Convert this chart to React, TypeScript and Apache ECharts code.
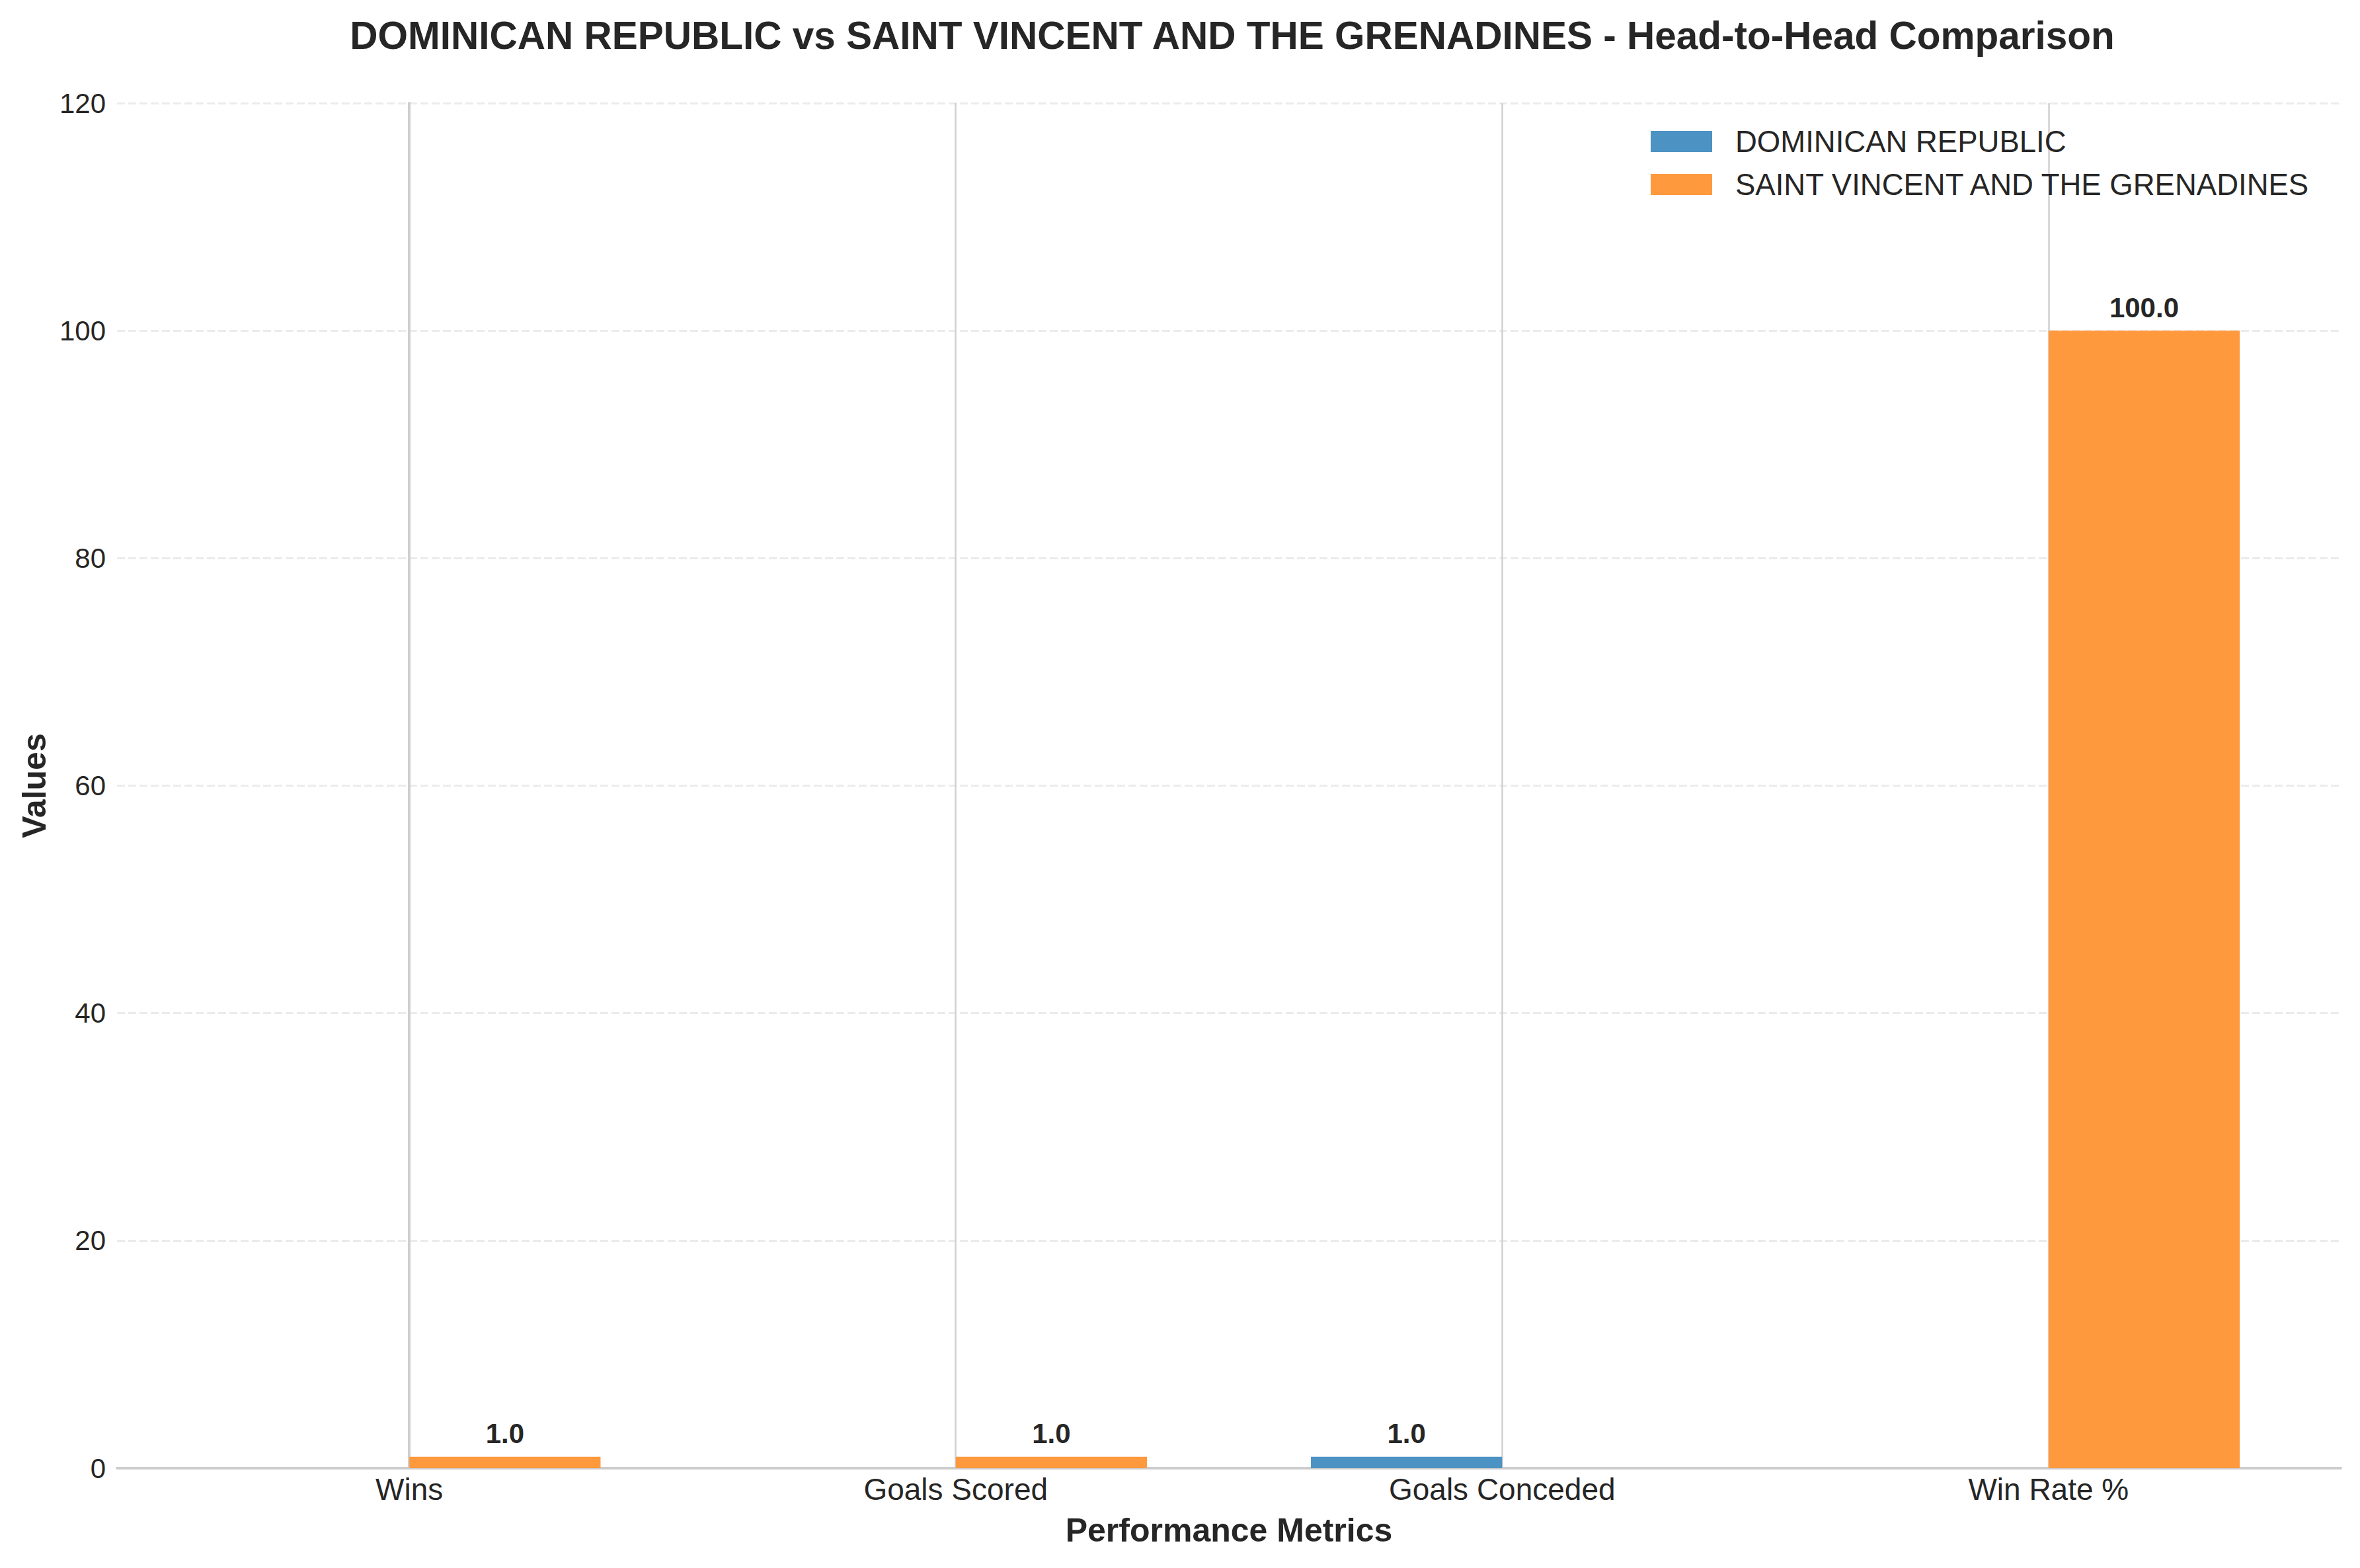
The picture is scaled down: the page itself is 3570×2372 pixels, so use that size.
import React, { useEffect, useRef } from "react";
import * as echarts from "echarts";

const CATEGORIES = ["Wins", "Goals Scored", "Goals Conceded", "Win Rate %"];
const TEAM_A = "DOMINICAN REPUBLIC";
const TEAM_B = "SAINT VINCENT AND THE GRENADINES";
const TEAM_A_VALUES = [0, 0, 1, 0];
const TEAM_B_VALUES = [1, 1, 0, 100];
const Y_TICKS = [0, 20, 40, 60, 80, 100, 120];

const TITLE = "DOMINICAN REPUBLIC vs SAINT VINCENT AND THE GRENADINES - Head-to-Head Comparison";
const FONT = "'Liberation Sans', Arial, Helvetica, sans-serif";
const TEXT = "#262626";
const BAR_W = 0.35;

function makeRender(offset: number, color: string) {
  return (params: any, api: any) => {
    const i = api.value(0);
    const v = api.value(1);
    const tl = api.coord([i + offset - BAR_W / 2, v]);
    const br = api.coord([i + offset + BAR_W / 2, 0]);
    const children: any[] = [
      {
        type: "rect",
        shape: { x: tl[0], y: tl[1], width: br[0] - tl[0], height: br[1] - tl[1] },
        style: { fill: color },
      },
    ];
    if (v !== 0) {
      children.push({
        type: "text",
        style: {
          x: (tl[0] + br[0]) / 2,
          y: tl[1] - 14,
          text: Number(v).toFixed(1),
          align: "center",
          verticalAlign: "bottom",
          font: `bold 42px ${FONT}`,
          fill: TEXT,
        },
      });
    }
    return { type: "group", children };
  };
}

export default function App() {
  const ref = useRef<HTMLDivElement>(null);
  useEffect(() => {
    if (!ref.current) return;
    const chart = echarts.init(ref.current, null, { renderer: "svg" });
    const blue = "#4c92c3";
    const orange = "#ff993e";
    chart.setOption({
      animation: false,
      backgroundColor: "#ffffff",
      textStyle: { fontFamily: FONT },
      title: {
        text: TITLE,
        left: 1859,
        top: 19,
        textAlign: "center",
        textStyle: { fontFamily: FONT, fontSize: 58.5, fontWeight: "bold", color: TEXT },
      },
      legend: {
        orient: "vertical",
        left: 2492,
        top: 186,
        itemWidth: 93,
        itemHeight: 32,
        itemGap: 19,
        icon: "rect",
        data: [TEAM_A, TEAM_B],
        textStyle: { fontFamily: FONT, fontSize: 45.5, color: TEXT, padding: [0, 0, 0, 30] },
      },
      grid: { left: 177, right: 29, top: 156, bottom: 151 },
      xAxis: {
        type: "value",
        min: -0.535,
        max: 3.535,
        name: "Performance Metrics",
        nameLocation: "middle",
        nameGap: 69,
        nameTextStyle: { fontFamily: FONT, fontSize: 50, fontWeight: "bold", color: TEXT },
        axisLine: { show: true, onZero: false, lineStyle: { color: "#cccccc", width: 4 } },
        axisTick: { show: false },
        splitLine: { show: false },
        axisLabel: {
          customValues: [0, 1, 2, 3],
          formatter: (v: number) => CATEGORIES[Math.round(v)] ?? "",
          fontFamily: FONT,
          fontSize: 46,
          color: TEXT,
          margin: 9,
        },
      },
      yAxis: {
        type: "value",
        min: Y_TICKS[0],
        max: Y_TICKS[Y_TICKS.length - 1],
        interval: Y_TICKS[1] - Y_TICKS[0],
        name: "Values",
        nameLocation: "middle",
        nameGap: 100,
        nameTextStyle: { fontFamily: FONT, fontSize: 50, fontWeight: "bold", color: TEXT },
        axisLine: { show: true, lineStyle: { color: "#cccccc", width: 4 } },
        axisTick: { show: false },
        axisLabel: { fontFamily: FONT, fontSize: 42, color: TEXT, margin: 17 },
        splitLine: { show: true, lineStyle: { color: "#ebebeb", width: 3, type: [12, 5] } },
      },
      series: [
        {
          name: TEAM_A,
          type: "custom",
          color: blue,
          itemStyle: { color: blue },
          renderItem: makeRender(-BAR_W / 2, blue),
          encode: { x: 0, y: 1 },
          data: TEAM_A_VALUES.map((v, i) => [i, v]),
          z: 3,
          markLine: {
            silent: true,
            symbol: "none",
            label: { show: false },
            lineStyle: { color: "#d0d0d0", width: 2.5, type: "solid" },
            data: CATEGORIES.map((_, i) => ({ xAxis: i })),
            z: 1,
          },
        },
        {
          name: TEAM_B,
          type: "custom",
          color: orange,
          itemStyle: { color: orange },
          renderItem: makeRender(BAR_W / 2, orange),
          encode: { x: 0, y: 1 },
          data: TEAM_B_VALUES.map((v, i) => [i, v]),
          z: 3,
        },
      ],
    });
    return () => chart.dispose();
  }, []);
  return (
    <div
      ref={ref}
      style={{ position: "fixed", left: 0, top: 0, width: 3570, height: 2372, background: "#fff" }}
    />
  );
}
